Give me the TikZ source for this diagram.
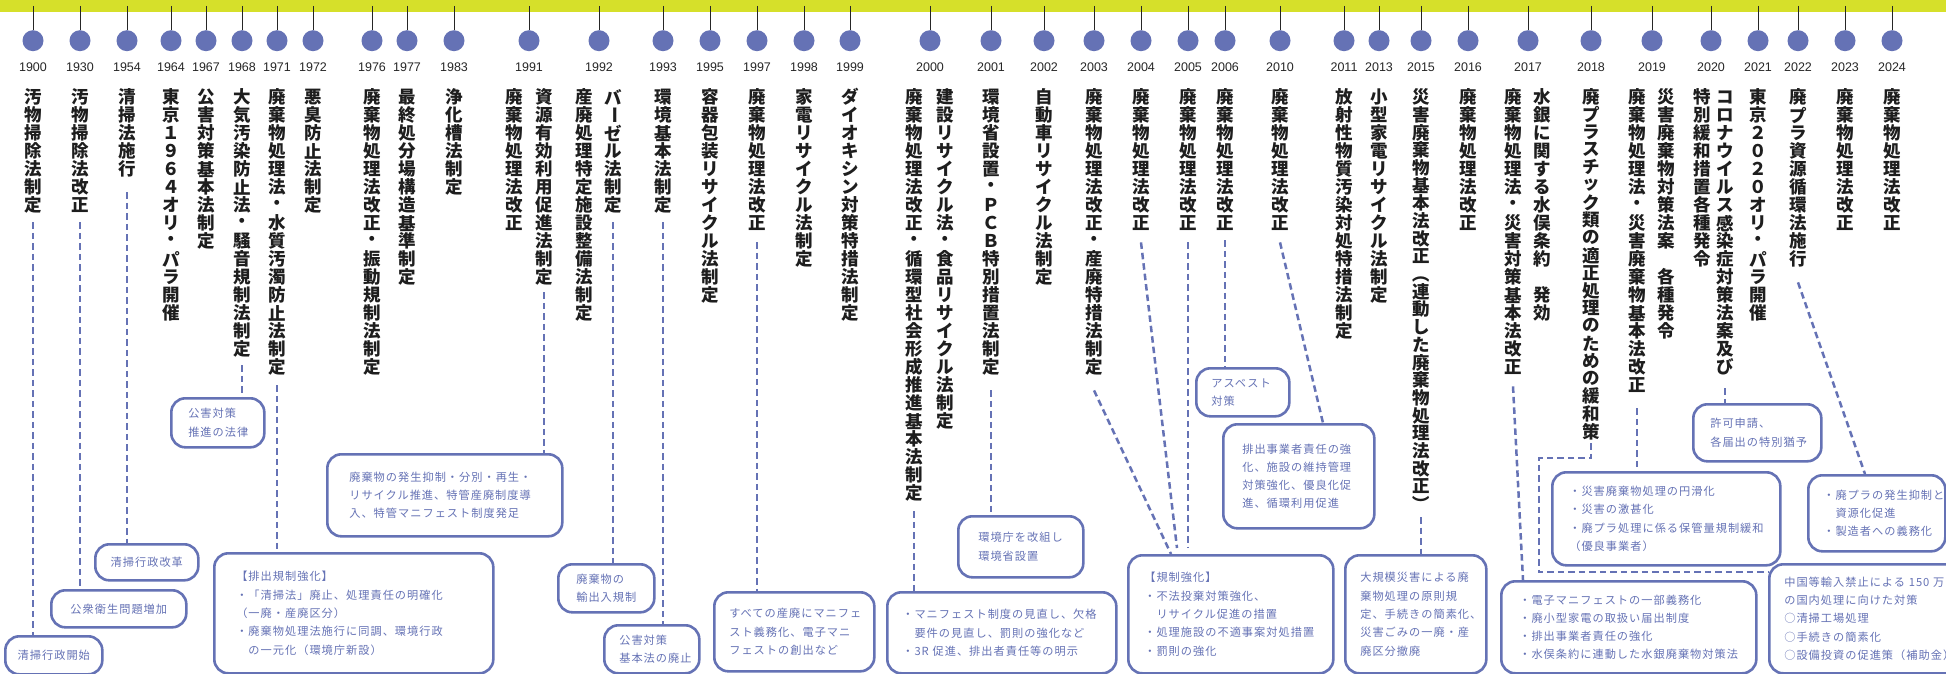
\documentclass[tikz,border=0pt]{standalone}
\usepackage{fontspec}
\usepackage{graphicx}
\setmainfont{Liberation Sans}
\newfontfamily\jp{Noto Sans CJK JP}
\newfontfamily\jpbox[LetterSpace=9]{Noto Sans CJK JP}
\definecolor{tlblue}{HTML}{6572B5}
\definecolor{tlyellow}{HTML}{D6E02A}
\definecolor{tlink}{HTML}{1E1E1E}
\newlength\vtp
\def\vtstop{\vtstop}
\newcommand\vt[2][18pt]{\vbox{\offinterlineskip\setlength\vtp{#1}\vtloop#2\vtstop}}
\def\vtloop#1{\ifx\vtstop#1\else\vbox to\vtp{\vss\hbox to 1em{\hss#1\hss}\vss}\expandafter\vtloop\fi}
\newcommand\vbar{\rotatebox[origin=c]{-90}{ー}}
\newcommand\vlp{\rotatebox[origin=c]{-90}{（}}
\newcommand\vrp{\rotatebox[origin=c]{-90}{）}}
\newcommand\infobox[8][left]{%
  \pgfmathsetmacro\bw{#5-#3}\pgfmathsetmacro\bh{#6-#4}\pgfmathsetmacro\tw{#5-#3-2*#7}%
  \node[ibox,anchor=north west,align=#1,minimum width=\bw pt,minimum height=\bh pt,
        text width=\tw pt,inner xsep=#7pt] (#2) at (#3,#4) {#8};}
\newcommand\vlink[3][9]{\draw[dline] ([yshift=-#1pt]#2.south) -- (#2.south |- #3.north);}
\begin{document}
\begin{tikzpicture}[x=1pt,y=-1pt,
  dotc/.style={circle,fill=tlblue,minimum size=21pt,inner sep=0pt},
  tick/.style={draw=black!85,line width=0.9pt},
  yearlbl/.style={font=\fontsize{12.5}{14}\selectfont,text=black!85,inner sep=0pt},
  vcol/.style={anchor=north,inner sep=0pt,text=tlink,font=\jp\bfseries\fontsize{17.5}{18}\selectfont},
  ibox/.style={draw=tlblue,line width=2.6pt,rounded corners=14pt,text=tlblue,
     font=\jpbox\fontsize{11.2}{18.3}\selectfont,inner ysep=0pt},
  dline/.style={draw=tlblue,line width=2.5pt,dash pattern=on 6.5pt off 4pt}]
\useasboundingbox (0,0) rectangle (1946,674);
\clip (0,0) rectangle (1946,674);
\fill[white] (0,0) rectangle (1946,674);
\node[fill=tlyellow,minimum width=1946pt,minimum height=11.5pt,inner sep=0pt,anchor=north west] (bar) at (0,0) {};
\foreach \x/\yr in {33/1900,80/1930,127/1954,171/1964,206/1967,242/1968,277/1971,313/1972,
  372/1976,407/1977,454/1983,529/1991,599/1992,663/1993,710/1995,757/1997,804/1998,850/1999,
  930/2000,991/2001,1044/2002,1094/2003,1141/2004,1188/2005,1225/2006,1280/2010,1344/2011,
  1379/2013,1421/2015,1468/2016,1528/2017,1591/2018,1652/2019,1711/2020,1758/2021,1798/2022,
  1845/2023,1892/2024}{
  \node[dotc] (d\yr) at (\x,40.7) {};
  \draw[tick] (d\yr |- bar.center) -- (d\yr.north);
  \node[yearlbl] (y\yr) at (\x,67) {\yr};
}
% vertical titles
\node[vcol] (c1900) at (33,88) {\vt{汚物掃除法制定}};
\node[vcol] (c1930) at (80,88) {\vt{汚物掃除法改正}};
\node[vcol] (c1954) at (127,88) {\vt{清掃法施行}};
\node[vcol] (c1964) at (171,88) {\vt{東京１９６４オリ・パラ開催}};
\node[vcol] (c1967) at (206,88) {\vt{公害対策基本法制定}};
\node[vcol] (c1968) at (242,88) {\vt{大気汚染防止法・騒音規制法制定}};
\node[vcol] (c1971) at (277,88) {\vt{廃棄物処理法・水質汚濁防止法制定}};
\node[vcol] (c1972) at (313,88) {\vt{悪臭防止法制定}};
\node[vcol] (c1976) at (372,88) {\vt{廃棄物処理法改正・振動規制法制定}};
\node[vcol] (c1977) at (407,88) {\vt{最終処分場構造基準制定}};
\node[vcol] (c1983) at (454,88) {\vt{浄化槽法制定}};
\node[vcol] (c1991a) at (514,88) {\vt{廃棄物処理法改正}};
\node[vcol] (c1991b) at (544,88) {\vt{資源有効利用促進法制定}};
\node[vcol] (c1992a) at (584,88) {\vt{産廃処理特定施設整備法制定}};
\node[vcol] (c1992b) at (613,88) {\vt{バ{\vbar}ゼル法制定}};
\node[vcol] (c1993) at (663,88) {\vt{環境基本法制定}};
\node[vcol] (c1995) at (710,88) {\vt{容器包装リサイクル法制定}};
\node[vcol] (c1997) at (757,88) {\vt{廃棄物処理法改正}};
\node[vcol] (c1998) at (804,88) {\vt{家電リサイクル法制定}};
\node[vcol] (c1999) at (850,88) {\vt{ダイオキシン対策特措法制定}};
\node[vcol] (c2000a) at (914,88) {\vt{廃棄物処理法改正・循環型社会形成推進基本法制定}};
\node[vcol] (c2000b) at (945,88) {\vt{建設リサイクル法・食品リサイクル法制定}};
\node[vcol] (c2001) at (991,88) {\vt{環境省設置・ＰＣＢ特別措置法制定}};
\node[vcol] (c2002) at (1044,88) {\vt{自動車リサイクル法制定}};
\node[vcol] (c2003) at (1094,88) {\vt{廃棄物処理法改正・産廃特措法制定}};
\node[vcol] (c2004) at (1141,88) {\vt{廃棄物処理法改正}};
\node[vcol] (c2005) at (1188,88) {\vt{廃棄物処理法改正}};
\node[vcol] (c2006) at (1225,88) {\vt{廃棄物処理法改正}};
\node[vcol] (c2010) at (1280,88) {\vt{廃棄物処理法改正}};
\node[vcol] (c2011) at (1344,88) {\vt{放射性物質汚染対処特措法制定}};
\node[vcol] (c2013) at (1379,88) {\vt{小型家電リサイクル法制定}};
\node[vcol] (c2015) at (1421,88) {\vt[17.7pt]{災害廃棄物基本法改正{\vlp}連動した廃棄物処理法改正{\vrp}}};
\node[vcol] (c2016) at (1468,88) {\vt{廃棄物処理法改正}};
\node[vcol] (c2017a) at (1513,88) {\vt{廃棄物処理法・災害対策基本法改正}};
\node[vcol] (c2017b) at (1542,88) {\vt{水銀に関する水俣条約　発効}};
\node[vcol] (c2018) at (1591,88) {\vt[17.6pt]{廃プラスチック類の適正処理のための緩和策}};
\node[vcol] (c2019a) at (1637,88) {\vt{廃棄物処理法・災害廃棄物基本法改正}};
\node[vcol] (c2019b) at (1666,88) {\vt{災害廃棄物対策法案　各種発令}};
\node[vcol] (c2020a) at (1702,88) {\vt{特別緩和措置各種発令}};
\node[vcol] (c2020b) at (1725,88) {\vt{コロナウイルス感染症対策法案及び}};
\node[vcol] (c2021) at (1758,88) {\vt{東京２０２０オリ・パラ開催}};
\node[vcol] (c2022) at (1798,88) {\vt{廃プラ資源循環法施行}};
\node[vcol] (c2023) at (1845,88) {\vt{廃棄物処理法改正}};
\node[vcol] (c2024) at (1892,88) {\vt{廃棄物処理法改正}};
% boxes
\infobox[center]{b1900}{4}{635}{101}{673}{6}{清掃行政開始}
\infobox[center]{b1930}{50}{589}{185}{626}{6}{公衆衛生問題増加}
\infobox[center]{b1954}{94}{543}{197}{579}{6}{清掃行政改革}
\infobox{b1968}{170}{397}{263}{446}{17}{公害対策\\推進の法律}
\infobox{b1971}{213}{552}{492}{672}{22}{【排出規制強化】\\・「清掃法」廃止、処理責任の明確化\\（一廃・産廃区分）\\・廃棄物処理法施行に同調、環境行政\\　の一元化（環境庁新設）}
\infobox{b1991}{326}{453}{561}{535}{22}{廃棄物の発生抑制・分別・再生・\\リサイクル推進、特管産廃制度導\\入、特管マニフェスト制度発足}
\infobox{b1992}{557}{563}{653}{611}{18}{廃棄物の\\輸出入規制}
\infobox{b1993}{603}{624}{698}{672}{15}{公害対策\\基本法の廃止}
\infobox{b1997}{713}{591}{873}{670}{15}{すべての産廃にマニフェ\\スト義務化、電子マニ\\フェストの創出など}
\infobox{b2000}{886}{591}{1115}{672}{15}{・マニフェスト制度の見直し、欠格\\　要件の見直し、罰則の強化など\\・3R~促進、排出者責任等の明示}
\infobox{b2001}{957}{515}{1082}{576}{20}{環境庁を改組し\\環境省設置}
\infobox{b2003}{1127}{554}{1332}{672}{16}{【規制強化】\\・不法投棄対策強化、\\　リサイクル促進の措置\\・処理施設の不適事案対処措置\\・罰則の強化}
\infobox{b2006}{1195}{367}{1288}{415}{15}{アスベスト\\対策}
\infobox{b2010}{1222}{423}{1373}{527}{19}{排出事業者責任の強\\化、施設の維持管理\\対策強化、優良化促\\進、循環利用促進}
\infobox{b2015}{1344}{554}{1485}{672}{15}{大規模災害による廃\\棄物処理の原則規\\定、手続きの簡素化、\\災害ごみの一廃・産\\廃区分撤廃}
\infobox{b2017}{1500}{580}{1755}{672}{18}{・電子マニフェストの一部義務化\\・廃小型家電の取扱い届出制度\\・排出事業者責任の強化\\・水俣条約に連動した水銀廃棄物対策法}
\infobox{b2019}{1551}{471}{1779}{564}{17}{・災害廃棄物処理の円滑化\\・災害の激甚化\\・廃プラ処理に係る保管量規制緩和\\（優良事業者）}
\infobox{b2020}{1692}{403}{1820}{460}{17}{許可申請、\\各届出の特別猶予}
\infobox{b2022}{1807}{474}{1944}{550}{15}{・廃プラの発生抑制と\\　資源化促進\\・製造者への義務化}
\infobox{bchina}{1768}{563}{1962}{672}{15}{中国等輸入禁止による~150~万\\の国内処理に向けた対策\\○清掃工場処理\\○手続きの簡素化\\○設備投資の促進策（補助金）}
% connectors
\vlink[8]{c1900}{b1900}
\vlink[8]{c1930}{b1930}
\vlink[14]{c1954}{b1954}
\vlink[7]{c1968}{b1968}
\vlink[9]{c1971}{b1971}
\vlink[6]{c1991b}{b1991}
\vlink[8]{c1992b}{b1992}
\vlink[8]{c1993}{b1993}
\vlink[10]{c1997}{b1997}
\vlink[9]{c2000a}{b2000}
\vlink[14]{c2001}{b2001}
\vlink[8]{c2006}{b2006}
\vlink[4]{c2015}{b2015}
\vlink[14]{c2019a}{b2019}
\vlink[12]{c2020b}{b2020}
\draw[dline] ([yshift=-14pt]c2003.south) -- ([xshift=44pt]b2003.north west);
\draw[dline] ([yshift=-10pt]c2004.south) -- ([xshift=50pt,yshift=6pt]b2003.north west);
\draw[dline] ([yshift=-10pt]c2005.south) -- ([xshift=61pt,yshift=6pt]b2003.north west);
\draw[dline] ([yshift=-10pt]c2010.south) -- ([xshift=101pt]b2010.north west);
\draw[dline] ([yshift=-10pt]c2017a.south) -- ([xshift=23pt]b2017.north west);
\draw[dline] ([yshift=-14pt]c2022.south) -- ([xshift=58pt]b2022.north west);
\coordinate (br1) at (1539,458);
\coordinate (br2) at (1769,572);
\draw[dline] ([yshift=-3pt]c2018.south) -- (c2018.south |- br1) -- (br1) -- (br1 |- br2) -- (br2);
\end{tikzpicture}
\end{document}
